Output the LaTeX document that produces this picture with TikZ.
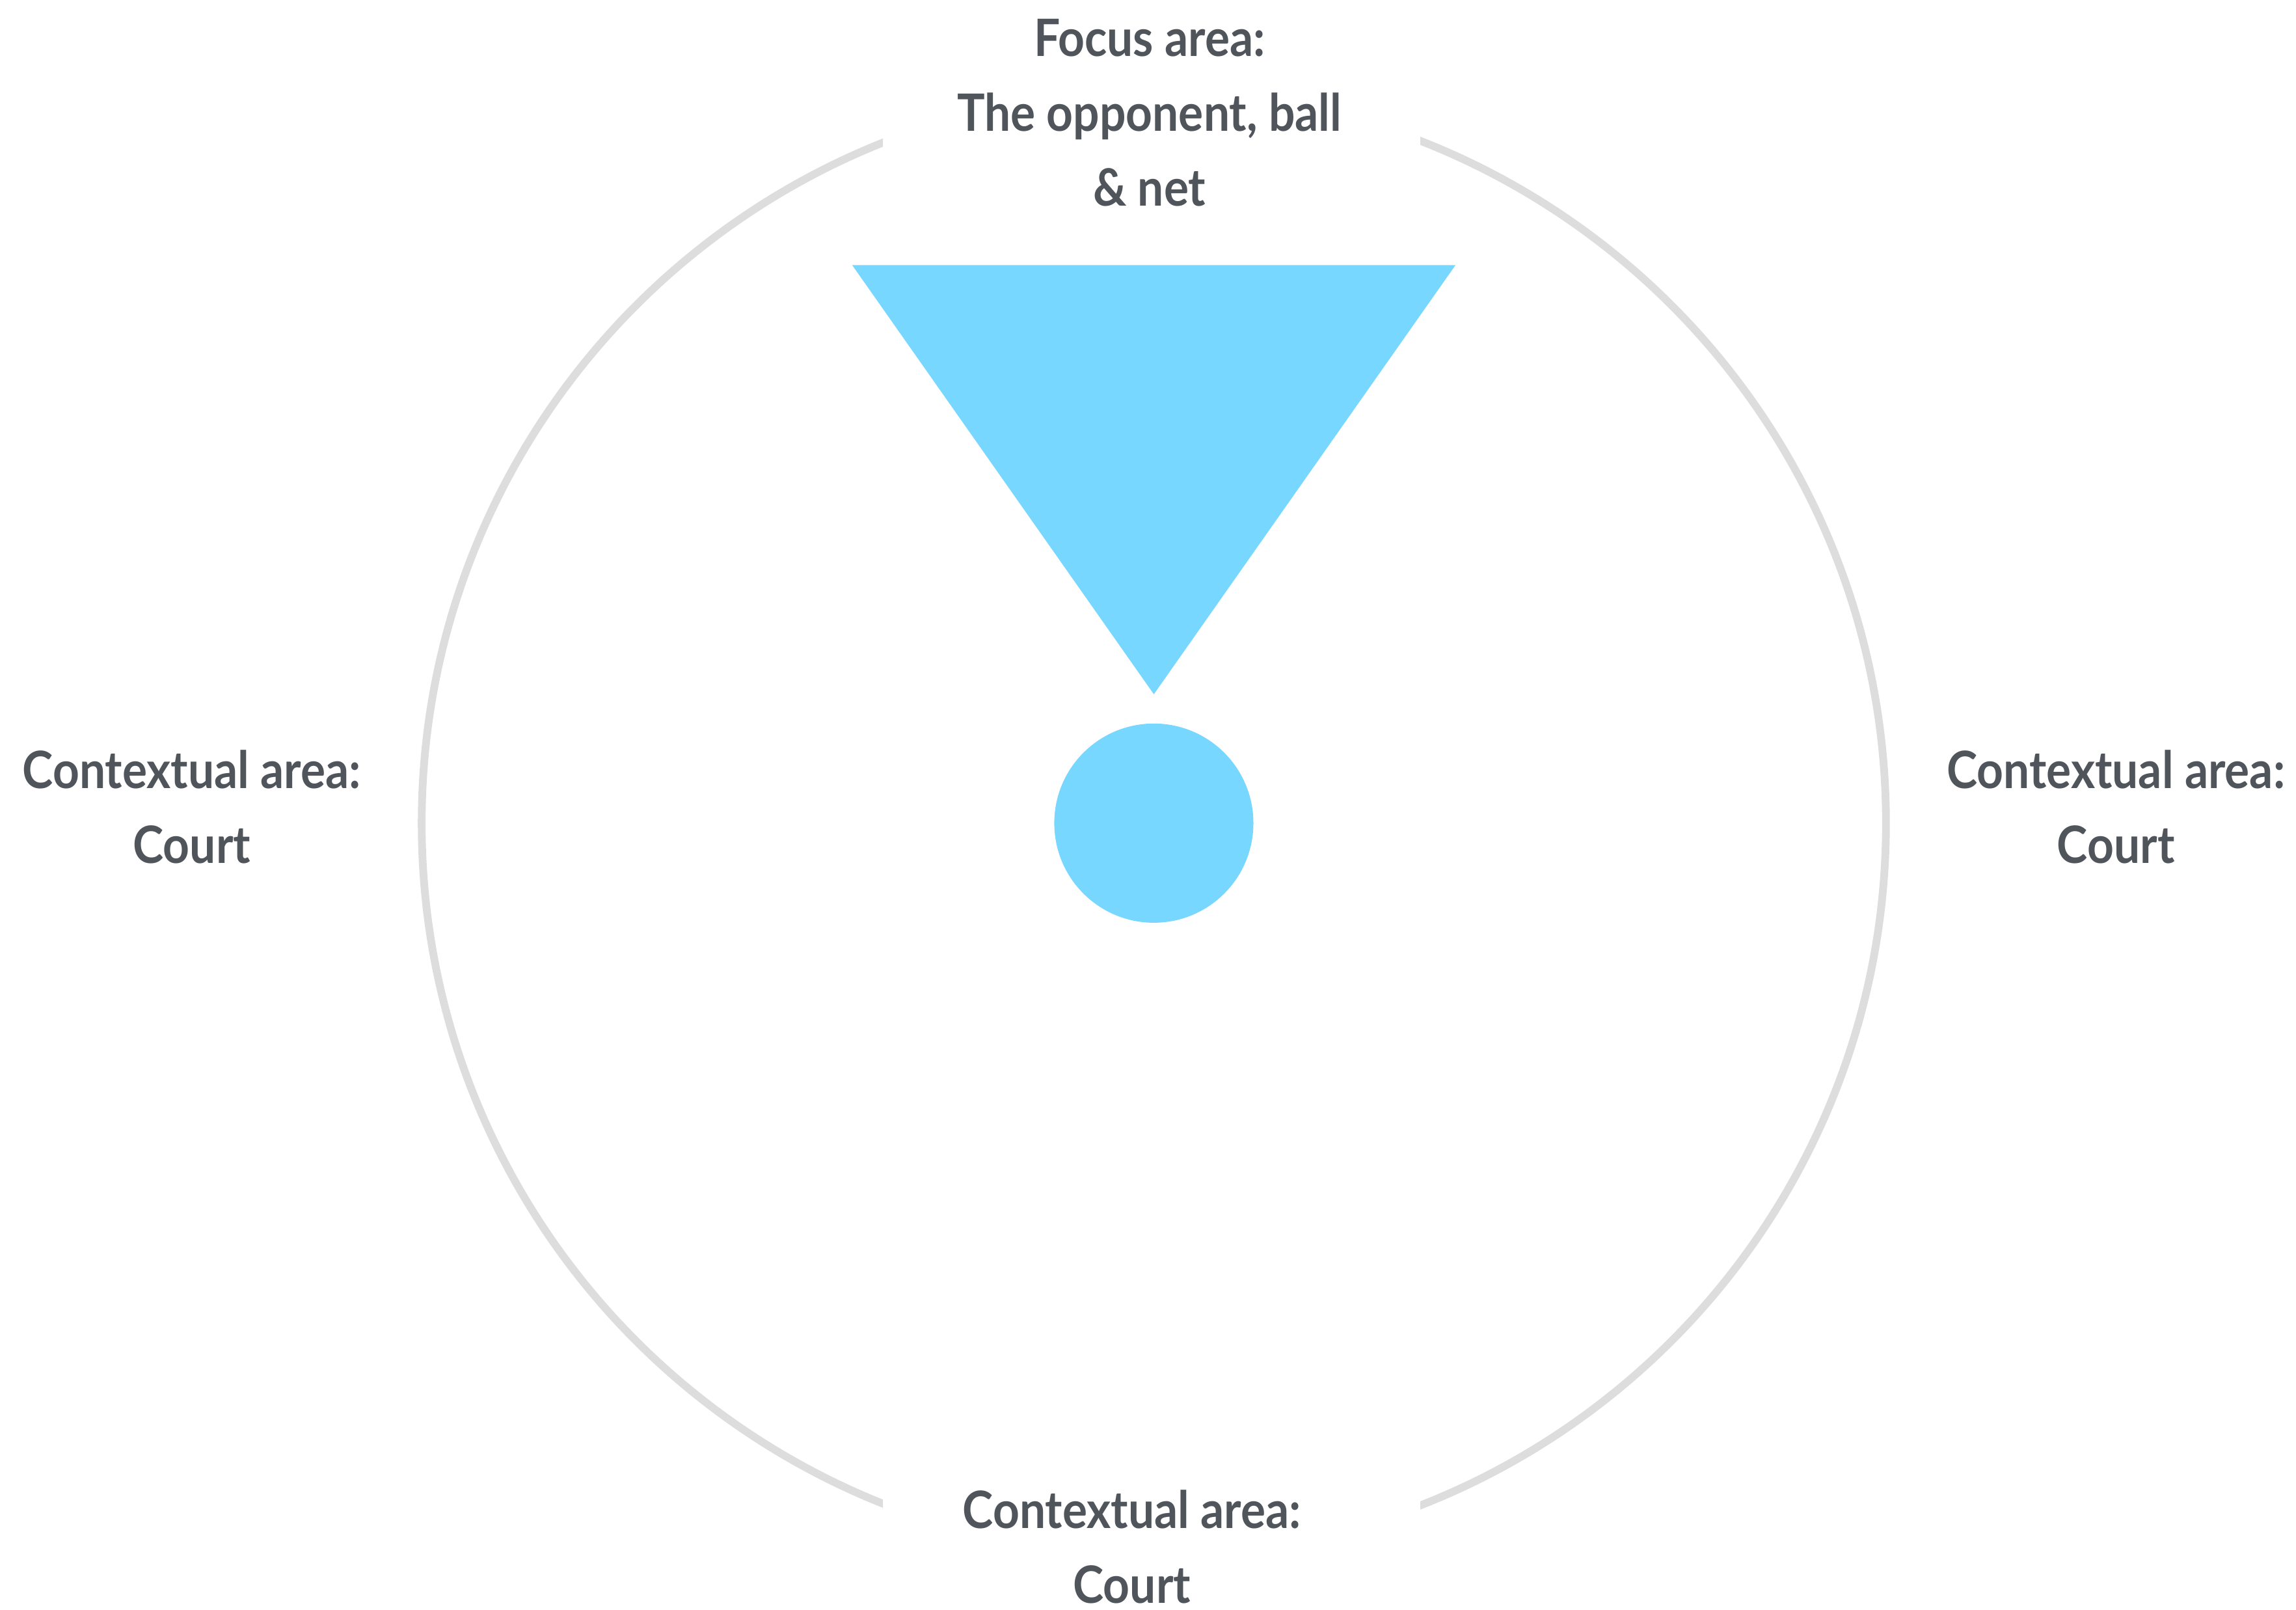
\documentclass[tikz,border=0pt]{standalone}
\usepackage{fontspec}
\setmainfont{Lato}[FakeStretch=0.9]
\usepackage{tikz}
\usepackage{xcolor}
\definecolor{txtgray}{HTML}{50555C}
\definecolor{focusblue}{HTML}{78D7FF}
\definecolor{ringgray}{HTML}{DDDDDD}
\tikzset{
  ring/.style={line width=1.5pt, draw=ringgray},
  areatext/.style={font=\bfseries\fontsize{10}{14.5}\selectfont, text=txtgray, align=center, inner sep=0pt},
  blob/.style={fill=focusblue, draw=none},
}

\begin{document}
\begin{tikzpicture}[x=0.01cm, y=0.01cm]
  \useasboundingbox (-788,-537) rectangle (780,562);
  % Ring, open at top and bottom
  \begin{scope}
    \clip (-800,-600) rectangle (-185,600);
    \draw[ring] (0,0) circle[radius=500];
  \end{scope}
  \begin{scope}
    \clip (182,-600) rectangle (800,600);
    \draw[ring] (0,0) circle[radius=500];
  \end{scope}
  % Focus cone and player
  \fill[blob] (-206,381) -- (206,381) -- (0,88) -- cycle;
  \fill[blob] (0,0) circle[radius=68];
  % Area labels
  \node[areatext] (focustxt) at (-3,485) {Focus area:\\The opponent, ball\\\& net};
  \node[areatext] (leftctx) at (-657,11) {Contextual area:\\Court};
  \node[areatext] (rightctx) at (657,11) {Contextual area:\\Court};
  \node[areatext] (bottomctx) at (-15,-494) {Contextual area:\\Court};
\end{tikzpicture}
\end{document}
